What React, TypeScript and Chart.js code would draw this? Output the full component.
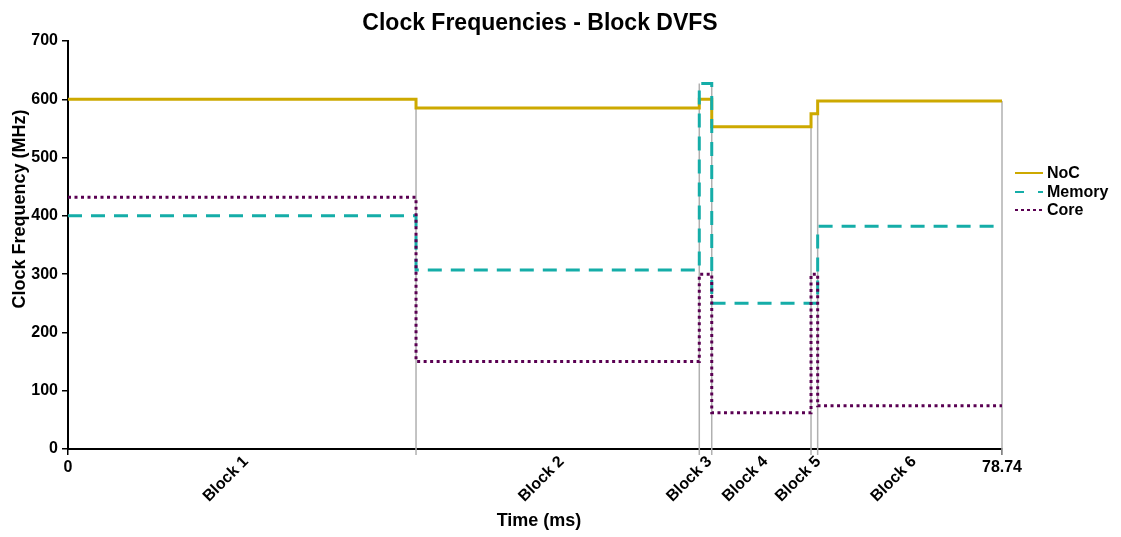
import React, { useEffect, useRef } from "react";
import { Chart, registerables } from "chart.js";

Chart.register(...registerables);

// ---- data ----
const blockNames = ["Block 1", "Block 2", "Block 3", "Block 4", "Block 5", "Block 6"];
const blockStarts = [0, 29.34, 53.22, 54.27, 62.64, 63.2];
const endTime = 78.74;
const nocMHz = [600, 585, 600, 553, 575, 597];
const memoryMHz = [400, 307, 627, 250, 250, 382];
const coreMHz = [432, 150, 300, 62, 300, 74];
const xTickValues = [0, 78.74];
const xTickLabels = ["0", "78.74"];
const seriesNames = ["NoC", "Memory", "Core"];

const FONT = '"Liberation Sans", Arial, sans-serif';
const NOC_COLOR = "#CDA900";
const MEM_COLOR = "#15ADA8";
const CORE_COLOR = "#5A0052";

function steps(vals: number[]) {
  const pts = blockStarts.map((t, i) => ({ x: t, y: vals[i] }));
  pts.push({ x: endTime, y: vals[vals.length - 1] });
  return pts;
}

const overlay = {
  id: "overlay",
  beforeDatasetsDraw(chart: any) {
    const { ctx, scales } = chart;
    const xs = scales.x;
    const ys = scales.y;
    const all = [nocMHz, memoryMHz, coreMHz];
    ctx.save();
    ctx.strokeStyle = "#B0B0B0";
    ctx.lineWidth = 1.5;
    const bounds = blockStarts.slice(1).concat([endTime]);
    bounds.forEach((t, k) => {
      const i = k + 1;
      let m = 0;
      all.forEach((s) => {
        m = Math.max(m, s[i - 1]);
        if (i < s.length) m = Math.max(m, s[i]);
      });
      const x = xs.getPixelForValue(t);
      ctx.beginPath();
      ctx.moveTo(x, ys.getPixelForValue(m));
      ctx.lineTo(x, ys.bottom + 6);
      ctx.stroke();
    });
    ctx.restore();
  },
  afterDraw(chart: any) {
    const { ctx, scales } = chart;
    const xs = scales.x;
    ctx.save();
    ctx.fillStyle = "#000";
    // title
    ctx.font = `bold 23px ${FONT}`;
    ctx.textAlign = "center";
    ctx.textBaseline = "alphabetic";
    ctx.fillText("Clock Frequencies - Block DVFS", 540, 30);
    // x title
    ctx.font = `bold 18px ${FONT}`;
    ctx.fillText("Time (ms)", 539, 526);
    // y title
    ctx.save();
    ctx.translate(20, 209);
    ctx.rotate(-Math.PI / 2);
    ctx.textBaseline = "middle";
    ctx.fillText("Clock Frequency (MHz)", 0, 0);
    ctx.restore();
    // block labels
    ctx.font = `bold 16px ${FONT}`;
    blockNames.forEach((name, i) => {
      const t0 = blockStarts[i];
      const t1 = i + 1 < blockStarts.length ? blockStarts[i + 1] : endTime;
      const x = xs.getPixelForValue((t0 + t1) / 2);
      ctx.save();
      ctx.translate(x + 4, 459);
      ctx.rotate(-Math.PI / 4);
      ctx.textAlign = "right";
      ctx.textBaseline = "middle";
      ctx.fillText(name, 0, 0);
      ctx.restore();
    });
    // legend
    const colors = [NOC_COLOR, MEM_COLOR, CORE_COLOR];
    const dashes = [[], [9, 14], [3, 3]];
    const ly = [173, 192, 210];
    seriesNames.forEach((n, i) => {
      ctx.save();
      ctx.strokeStyle = colors[i];
      ctx.lineWidth = 2;
      ctx.setLineDash(dashes[i]);
      ctx.beginPath();
      ctx.moveTo(1015, ly[i]);
      ctx.lineTo(1043, ly[i]);
      ctx.stroke();
      ctx.restore();
      ctx.font = `bold 16px ${FONT}`;
      ctx.textAlign = "left";
      ctx.textBaseline = "middle";
      ctx.fillText(n, 1047, ly[i] + 1);
    });
    ctx.restore();
  },
};

export default function App() {
  const ref = useRef<HTMLCanvasElement | null>(null);
  useEffect(() => {
    document.body.style.margin = "0";
    const canvas = ref.current!;
    const chart = new Chart(canvas, {
      type: "line",
      data: {
        datasets: [
          {
            label: seriesNames[0],
            data: steps(nocMHz),
            borderColor: NOC_COLOR,
            borderWidth: 3,
            stepped: true,
            pointRadius: 0,
            order: 2,
          },
          {
            label: seriesNames[1],
            data: steps(memoryMHz),
            borderColor: MEM_COLOR,
            borderWidth: 3,
            borderDash: [14, 9],
            stepped: true,
            pointRadius: 0,
            order: 1,
          },
          {
            label: seriesNames[2],
            data: steps(coreMHz),
            borderColor: CORE_COLOR,
            borderWidth: 3,
            borderDash: [3, 3.5],
            stepped: true,
            pointRadius: 0,
            order: 0,
          },
        ] as any,
      },
      options: {
        responsive: false,
        animation: false,
        devicePixelRatio: 1,
        events: [],
        layout: { padding: { left: 0, top: 41, right: 119, bottom: 0 } },
        plugins: {
          legend: { display: false },
          title: { display: false },
          tooltip: { enabled: false },
        },
        scales: {
          x: {
            type: "linear",
            min: 0,
            max: endTime,
            afterBuildTicks: (s: any) => {
              s.ticks = xTickValues.map((v) => ({ value: v }));
            },
            afterFit: (s: any) => {
              s.height = 88;
            },
            ticks: {
              maxRotation: 0,
              minRotation: 0,
              padding: 3,
              color: "#000",
              font: { family: FONT, size: 16, weight: "bold" },
              callback: (v: any) => {
                const i = xTickValues.indexOf(Number(v));
                return i >= 0 ? xTickLabels[i] : "";
              },
            },
            grid: {
              display: true,
              drawOnChartArea: false,
              drawTicks: true,
              tickLength: 6,
              color: "#000",
              lineWidth: 1.5,
            },
            border: { display: true, color: "#000", width: 2 },
          },
          y: {
            type: "linear",
            min: 0,
            max: 700,
            afterFit: (s: any) => {
              s.width = 68;
            },
            ticks: {
              stepSize: 100,
              padding: 4,
              color: "#000",
              font: { family: FONT, size: 16, weight: "bold" },
            },
            grid: {
              display: true,
              drawOnChartArea: false,
              drawTicks: true,
              tickLength: 6,
              color: "#000",
              lineWidth: 1.5,
            },
            border: { display: true, color: "#000", width: 2 },
          },
        },
      } as any,
      plugins: [overlay],
    });
    return () => chart.destroy();
  }, []);
  return (
    <div style={{ width: 1121, height: 537 }}>
      <canvas ref={ref} width={1121} height={537} style={{ display: "block" }} />
    </div>
  );
}
